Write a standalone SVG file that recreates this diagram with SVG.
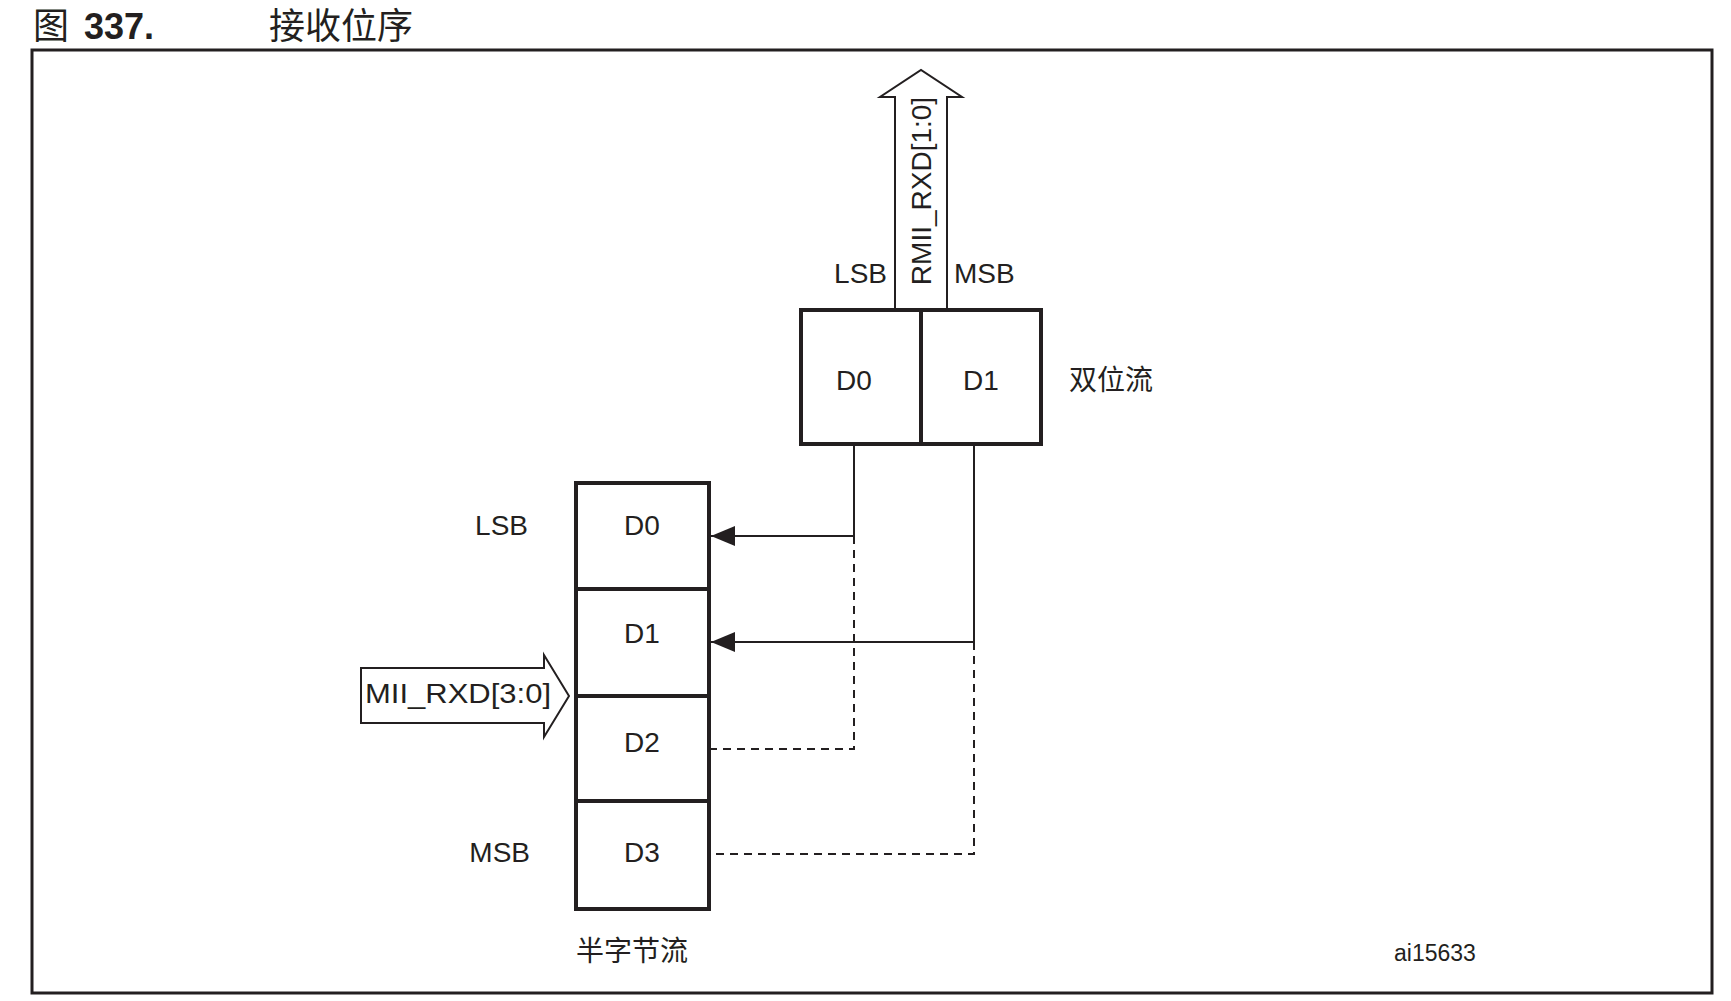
<svg xmlns="http://www.w3.org/2000/svg" width="1731" height="1001" viewBox="0 0 1731 1001">
<style>
text{font-family:"Liberation Sans","Noto Sans CJK SC",sans-serif;fill:#231f20}
.l{font-size:28px}
.c{text-anchor:middle}
.cjk{font-family:"Noto Sans CJK SC",sans-serif;font-size:28px}
.box{fill:#fff;stroke:#231f20;stroke-width:4}
.ln{fill:none;stroke:#231f20;stroke-width:2}
.ds{fill:none;stroke:#231f20;stroke-width:2;stroke-dasharray:8,6}
</style>
<defs><marker id="ah" viewBox="0 0 10 10" refX="10" refY="5" markerWidth="8" markerHeight="8" markerUnits="userSpaceOnUse" orient="auto"><path d="M0,0L10,5L0,10z" fill="#231f20"/></marker>
<marker id="a" viewBox="0 0 24 20" refX="24" refY="10" markerWidth="24" markerHeight="20" markerUnits="userSpaceOnUse" orient="auto"><path d="M0,0L24,10L0,20z" fill="#231f20"/></marker></defs>
<rect width="1731" height="1001" fill="#fff"/>
<text x="33" y="39" style="font-family:'Noto Sans CJK SC',sans-serif;font-size:36px">图</text>
<text x="84" y="39" style="font-size:36px;font-weight:bold">337.</text>
<text x="269" y="39" style="font-family:'Noto Sans CJK SC',sans-serif;font-size:36px">接收位序</text>
<rect x="32" y="50" width="1680" height="943" fill="none" stroke="#231f20" stroke-width="3"/>
<g id="rmii">
<path d="M895,308V97H880L921,70L962,97H947V308" fill="#fff" stroke="#231f20" stroke-width="2"/>
<text class="l c" transform="translate(931,191) rotate(-90)" x="0" y="0">RMII_RXD[1:0]</text>
<text class="l" x="887" y="283" text-anchor="end">LSB</text>
<text class="l" x="954" y="283">MSB</text>
</g>
<g id="dibit">
<rect class="box" x="801" y="310" width="240" height="134"/>
<line x1="921" y1="310" x2="921" y2="444" stroke="#231f20" stroke-width="4"/>
<text class="l c" x="854" y="390">D0</text>
<text class="l c" x="981" y="390">D1</text>
<text class="cjk" x="1069" y="390">双位流</text>
</g>
<g id="nibble">
<rect class="box" x="576" y="483" width="133" height="426"/>
<line x1="576" y1="589" x2="709" y2="589" stroke="#231f20" stroke-width="4"/>
<line x1="576" y1="696" x2="709" y2="696" stroke="#231f20" stroke-width="4"/>
<line x1="576" y1="801" x2="709" y2="801" stroke="#231f20" stroke-width="4"/>
<text class="l c" x="642" y="535">D0</text>
<text class="l c" x="642" y="643">D1</text>
<text class="l c" x="642" y="752">D2</text>
<text class="l c" x="642" y="862">D3</text>
<text class="l" x="528" y="535" text-anchor="end">LSB</text>
<text class="l" x="530" y="862" text-anchor="end">MSB</text>
<text class="cjk" x="576" y="961">半字节流</text>
</g>
<g id="mii">
<path d="M361,668H544V655L569,696L544,737V723H361Z" fill="#fff" stroke="#231f20" stroke-width="2"/>
<text class="l c" x="458" y="703" textLength="186" lengthAdjust="spacingAndGlyphs">MII_RXD[3:0]</text>
</g>
<g id="connectors">
<path class="ln" d="M854,444V536H711" marker-end="url(#a)"/>
<path class="ln" d="M974,444V642H711" marker-end="url(#a)"/>
<path class="ds" d="M854,536V749H711"/>
<path class="ds" d="M974,642V854H711"/>
</g>
<text x="1394" y="961" style="font-size:23px">ai15633</text>
</svg>
